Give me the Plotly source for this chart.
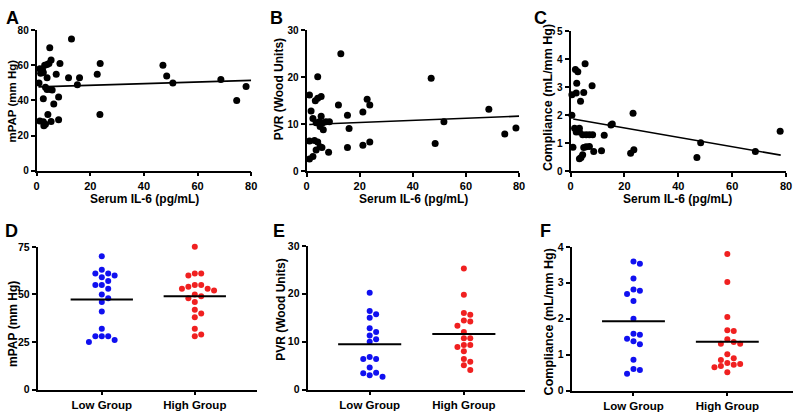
import numpy as np
import plotly.graph_objects as go

# ---------------- data ----------------
A_il6 = [13.0, 4.9, 5.4, 3.0, 3.9, 4.6, 8.7, 23.7, 47.1, 1.2, 2.2, 1.5, 2.5, 7.3, 11.9, 16.0,
         22.6, 3.9, 48.5, 0.9, 15.2, 50.8, 68.7, 78.1, 74.6, 3.3, 3.9, 5.2, 5.8, 8.2, 2.5, 6.4,
         4.2, 23.6, 1.2, 2.5, 5.4, 8.2, 2.7, 3.3]
A_mpap = [75, 70, 63, 60, 60.5, 61, 61, 61, 60, 58, 57.5, 55.5, 56, 55, 53, 53,
          55, 53, 54, 50, 49, 50, 52, 48, 40, 47.5, 46.3, 46.3, 46, 42, 41, 38,
          32, 32, 28.3, 27.8, 28, 29, 25.5, 26.4]

B_il6 = [12.9, 4.2, 1.1, 3.3, 4.2, 5.5, 12.0, 22.8, 23.8, 1.7, 5.5, 15.4, 21.2, 2.4, 3.6, 4.8,
         6.1, 7.3, 8.6, 5.1, 6.3, 16.0, 1.1, 3.0, 4.2, 5.1, 5.8, 3.6, 8.3, 15.4, 21.2, 23.8,
         2.4, 1.1, 46.9, 68.6, 48.4, 51.7, 74.6, 78.8]
B_pvr = [25.0, 20.1, 16.2, 15.0, 15.5, 15.9, 14.1, 15.3, 14.1, 12.8, 11.7, 11.9, 12.6, 11.2, 10.3, 10.5,
         10.3, 10.5, 10.5, 9.5, 8.8, 9.1, 6.4, 6.5, 6.2, 5.2, 5.0, 4.5, 4.0, 5.0, 5.5, 6.2,
         3.1, 2.6, 19.8, 13.2, 5.9, 10.5, 7.9, 9.2]

C_il6 = [5.4, 1.8, 2.7, 2.3, 8.0, 0.5, 2.1, 4.9, 3.7, 0.5, 23.2, 15.5, 15.0, 1.5, 2.7, 3.3,
         2.1, 3.3, 4.5, 5.8, 7.0, 8.2, 12.5, 0.9, 4.9, 5.8, 7.0, 8.6, 11.5, 3.9, 4.5, 3.3,
         22.3, 23.5, 46.9, 48.3, 68.6, 77.8]
C_comp = [3.84, 3.63, 3.55, 3.14, 3.05, 2.73, 2.79, 2.81, 2.50, 2.00, 2.07, 1.68, 1.65, 1.53, 1.49, 1.53,
          1.40, 1.40, 1.30, 1.30, 1.30, 1.30, 1.28, 0.85, 0.84, 0.87, 0.88, 0.70, 0.73, 0.49, 0.58, 0.44,
          0.64, 0.76, 0.49, 1.01, 0.70, 1.42]

# regression lines: (intercept, slope, x start, x end)
A_fit = (47.7, 0.047, 0.7, 80)
B_fit = (9.9, 0.0225, 1.0, 80)
C_fit = (1.88, -0.0168, 1.0, 78)

groups = ["Low Group", "High Group"]
D_low = [70, 63, 61, 61, 59, 60, 57, 55, 55, 53, 50, 48, 46, 41, 32, 28, 28, 28, 26, 25]
D_high = [75, 61, 61, 60, 55, 55, 53, 54, 53, 52, 50, 49, 48, 46, 42, 40, 38, 32, 28, 29]
E_low = [20.2, 16.4, 15.7, 15.0, 12.8, 12.0, 11.3, 10.5, 10.0, 6.8, 6.4, 6.4, 4.6, 3.5, 3.4, 3.0, 2.7]
E_high = [25.3, 19.8, 16.0, 15.6, 14.4, 14.2, 13.3, 12.0, 10.7, 10.7, 9.3, 9.3, 8.9, 8.0, 6.4, 5.8, 5.1, 4.1]
F_low = [3.59, 3.53, 3.12, 2.81, 2.78, 2.69, 2.49, 2.00, 1.58, 1.55, 1.44, 1.37, 1.29, 0.86, 0.60, 0.57, 0.47]
F_high = [3.80, 3.02, 2.05, 1.68, 1.66, 1.43, 1.35, 1.30, 1.30, 1.01, 0.90, 0.85, 0.77, 0.74, 0.72, 0.68, 0.65, 0.51]

# ---------------- layout helpers ----------------
W, H = 800, 415
FONT = "Liberation Sans, Arial, sans-serif"
BLUE = "#1010f0"
RED = "#f02020"


def dx(px0, px1):
    return [px0 / W, px1 / W]


def dy(ptop, pbot):
    return [1 - pbot / H, 1 - ptop / H]


panels = {
    # name: (x0, x1, ytop, ybot, xrange, yrange, ytickvals)
    "A": (34, 251, 25, 169.5, [0, 80], [0, 80], [0, 20, 40, 60, 80]),
    "B": (307, 522, 25, 170, [0, 80], [0, 30], [0, 10, 20, 30]),
    "C": (574, 792, 26, 170, [0, 80], [0, 5], [0, 1, 2, 3, 4, 5]),
    "D": (35, 257, 248, 395, [-0.69, 1.67], [0, 75], [0, 25, 50, 75]),
    "E": (308, 528, 247, 395, [-0.66, 1.65], [0, 30], [0, 10, 20, 30]),
    "F": (575, 799, 248, 396, [-0.66, 1.70], [0, 4], [0, 1, 2, 3, 4]),
}

fig = go.Figure()
layout = {}
for i, (name, (x0, x1, yt, yb, xr, yr, ytv)) in enumerate(panels.items()):
    k = "" if i == 0 else str(i + 1)
    top = name in "ABC"
    xa = dict(domain=dx(x0, x1), range=xr, anchor="y" + k, showgrid=False, zeroline=False,
              showline=True, linecolor="black", linewidth=1.8, ticks="outside", ticklen=4,
              tickwidth=1.6, tickcolor="black",
              tickfont=dict(family=FONT, size=11, color="black", weight="bold"))
    if top:
        xa.update(tickvals=[0, 20, 40, 60, 80])
    else:
        xa.update(tickvals=[0, 1], ticktext=groups,
                  tickfont=dict(family=FONT, size=11.5, color="black", weight="bold"))
    ya = dict(domain=dy(yt, yb), range=yr, anchor="x" + k, showgrid=False, zeroline=False,
              showline=True, linecolor="black", linewidth=1.8, ticks="outside", ticklen=4,
              tickwidth=1.6, tickcolor="black", tickvals=ytv,
              tickfont=dict(family=FONT, size=10 if top else 10.5, color="black", weight="bold"))
    layout["xaxis" + k] = xa
    layout["yaxis" + k] = ya

# ---------------- scatter panels ----------------
scat = [("A", A_il6, A_mpap, A_fit, ""), ("B", B_il6, B_pvr, B_fit, "2"), ("C", C_il6, C_comp, C_fit, "3")]
for name, xs, ys, fit, k in scat:
    fig.add_trace(go.Scatter(x=xs, y=ys, mode="markers", xaxis="x" + k, yaxis="y" + k,
                             marker=dict(color="black", size=7), cliponaxis=False, showlegend=False))
    b0, b1, xa_, xb_ = fit
    fig.add_trace(go.Scatter(x=[xa_, xb_], y=[b0 + b1 * xa_, b0 + b1 * xb_], mode="lines",
                             xaxis="x" + k, yaxis="y" + k, line=dict(color="black", width=1.6),
                             showlegend=False))


# ---------------- dot plot panels ----------------
def swarm(vals, px_per_y, px_per_x, diam=6.2, step=6.5):
    placed = []
    offs = [0.0] * len(vals)
    order = sorted(range(len(vals)), key=lambda j: -vals[j])
    for j in order:
        ypx = vals[j] * px_per_y
        cands = [0]
        for m in range(1, 10):
            cands += [m, -m]
        for c in cands:
            xpx = c * step
            if all((xpx - px) ** 2 + (ypx - py) ** 2 >= diam ** 2 for px, py in placed):
                break
        placed.append((xpx, ypx))
        offs[j] = xpx / px_per_x
    return offs


dots = [("D", D_low, D_high, "4"), ("E", E_low, E_high, "5"), ("F", F_low, F_high, "6")]
for name, lo, hi, k in dots:
    x0, x1, yt, yb, xr, yr, _ = panels[name]
    ppy = (yb - yt) / (yr[1] - yr[0])
    ppx = (x1 - x0) / (xr[1] - xr[0])
    for gi, (vals, col) in enumerate([(lo, BLUE), (hi, RED)]):
        offs = swarm(vals, ppy, ppx)
        fig.add_trace(go.Scatter(x=[gi + o for o in offs], y=vals, mode="markers",
                                 xaxis="x" + k, yaxis="y" + k,
                                 marker=dict(color=col, size=6), cliponaxis=False, showlegend=False))
        m = float(np.mean(vals))
        fig.add_trace(go.Scatter(x=[gi - 0.335, gi + 0.335], y=[m, m], mode="lines",
                                 xaxis="x" + k, yaxis="y" + k,
                                 line=dict(color="black", width=2), showlegend=False))

# ---------------- text ----------------
ann = []


def text(t, x, y, size, angle=0):
    ann.append(dict(text=t, x=x / W, y=1 - y / H, xref="paper", yref="paper", showarrow=False,
                    textangle=angle, xanchor="center", yanchor="middle",
                    font=dict(family=FONT, size=size, color="black", weight="bold")))


for letter, lx, ly in [("A", 10, 12), ("B", 277, 12), ("C", 544, 12),
                       ("D", 9, 232), ("E", 279, 232), ("F", 549, 232)]:
    text(letter, lx, ly, 18)

for cx in [143, 415, 682]:
    text("Serum IL-6 (pg/mL)", cx, 199, 12)

text("mPAP (mm Hg)", 9.5, 98, 11.5, -90)
text("PVR (Wood Units)", 279, 86, 12, -90)
text("Compliance (mL/mm Hg)", 551, 94, 12.5, -90)
text("mPAP (mm Hg)", 9.5, 327, 12, -90)
text("PVR (Wood Units)", 281, 313, 12, -90)
text("Compliance (mL/mm Hg)", 552, 325, 12.5, -90)

fig.update_layout(width=W, height=H, margin=dict(l=0, r=0, t=0, b=0),
                  paper_bgcolor="white", plot_bgcolor="white", annotations=ann, **layout)
fig.write_html("out.html", config={"displayModeBar": False},
               post_script="document.body.style.margin='0px';document.body.style.padding='0px';")
